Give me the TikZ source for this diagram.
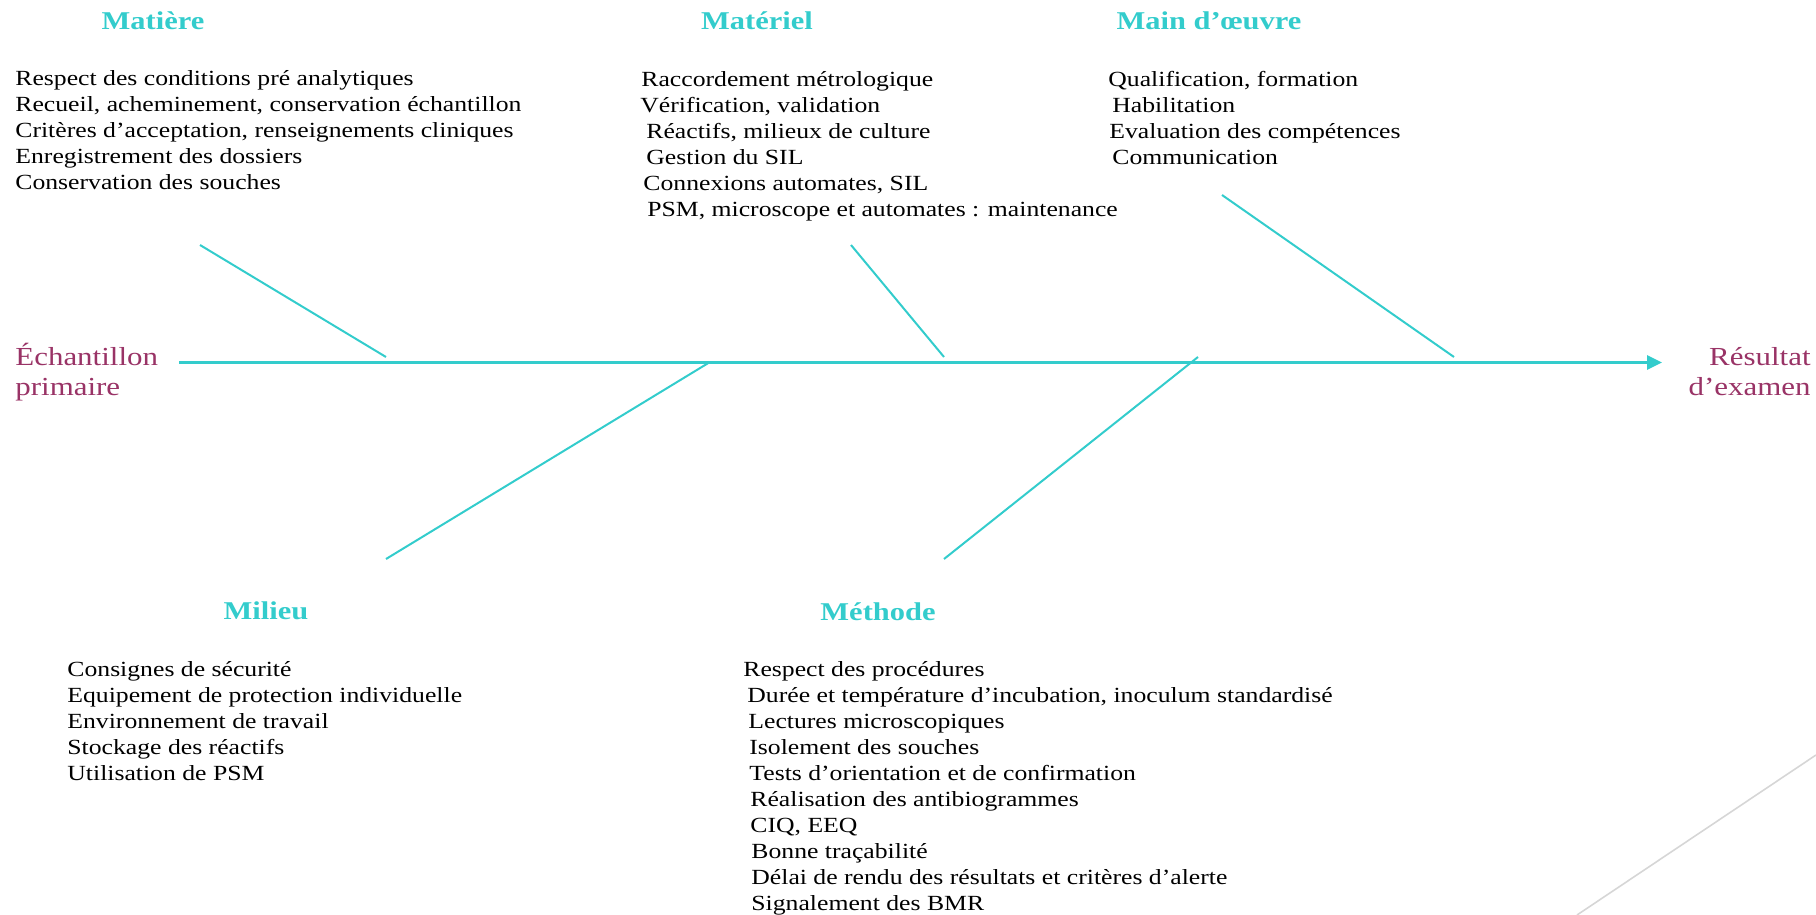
\documentclass[tikz,border=0pt]{standalone}
\usepackage{fontspec}
\setmainfont{Liberation Serif}[FakeStretch=1.19]
\usetikzlibrary{arrows.meta}
\definecolor{fishteal}{HTML}{33CCCC}
\definecolor{fishplum}{HTML}{993366}

\begin{document}
\begin{tikzpicture}[x=0.5pt, y=-0.5pt,
    cause/.style={font=\fontsize{12.8}{15}\selectfont\bfseries, text=fishteal, inner sep=0pt, anchor=base},
    items/.style={font=\fontsize{10.8}{13}\selectfont, align=left, inner sep=0pt, anchor=base west},
    ends/.style={font=\fontsize{13}{15}\selectfont, text=fishplum, inner sep=0pt},
    bone/.style={draw=fishteal, line width=1pt}]
    \useasboundingbox (0,0) rectangle (1816,915);

    % the five causes
    \node[cause] (matiere) at (153, 29.5) {Matière};
    \node[cause] (materiel) at (757, 29.5) {Matériel};
    \node[cause] (maindoeuvre) at (1209, 29.5) {Main d’œuvre};
    \node[cause] (milieu) at (266, 619) {Milieu};
    \node[cause] (methode) at (878, 620) {Méthode};

    % lists, placed by the baseline of their last line
    \node[items] (matiere-list) at (15, 190) {Respect des conditions pré analytiques\\
        Recueil, acheminement, conservation échantillon\\
        Critères d’acceptation, renseignements cliniques\\
        Enregistrement des dossiers\\
        Conservation des souches};
    \node[items] (materiel-list) at (640, 216) {\hspace*{0.5pt}Raccordement métrologique\\
        Vérification, validation\\
        \hspace*{3pt}Réactifs, milieux de culture\\
        \hspace*{3pt}Gestion du SIL\\
        \hspace*{1.5pt}Connexions automates, SIL\\
        \hspace*{3.5pt}PSM, microscope et automates : maintenance};
    \node[items] (maindoeuvre-list) at (1108, 164) {Qualification, formation\\
        \hspace*{2pt}Habilitation\\
        \hspace*{0.5pt}Evaluation des compétences\\
        \hspace*{2pt}Communication};
    \node[items] (milieu-list) at (67, 780) {Consignes de sécurité\\
        Equipement de protection individuelle\\
        Environnement de travail\\
        Stockage des réactifs\\
        Utilisation de PSM};
    \node[items] (methode-list) at (743, 910) {Respect des procédures\\
        \hspace*{2pt}Durée et température d’incubation, inoculum standardisé\\
        \hspace*{2.5pt}Lectures microscopiques\\
        \hspace*{3pt}Isolement des souches\\
        \hspace*{3pt}Tests d’orientation et de confirmation\\
        \hspace*{3.5pt}Réalisation des antibiogrammes\\
        \hspace*{3.5pt}CIQ, EEQ\\
        \hspace*{4pt}Bonne traçabilité\\
        \hspace*{4pt}Délai de rendu des résultats et critères d’alerte\\
        \hspace*{4pt}Signalement des BMR};

    % start and end of the spine
    \node[ends, align=left, anchor=base west] (echantillon) at (15, 395) {Échantillon\\primaire};
    \node[ends, align=right, anchor=base east] (resultat) at (1811, 395) {Résultat\\d’examen};

    \coordinate (spine-start) at (179, 362.5);
    \coordinate (spine-end) at (1662, 362.5);
    \draw[fishteal, line width=1.5pt, -{Triangle[length=7.5pt, width=7pt]}] (spine-start) -- (spine-end);

    % bones
    \coordinate (matiere-top) at (200, 245);
    \coordinate (matiere-foot) at (386, 357);
    \coordinate (materiel-top) at (851, 245);
    \coordinate (materiel-foot) at (944, 357);
    \coordinate (maindoeuvre-top) at (1222, 195);
    \coordinate (maindoeuvre-foot) at (1454, 357);
    \coordinate (milieu-top) at (710, 362);
    \coordinate (milieu-foot) at (386, 559);
    \coordinate (methode-top) at (1198, 357);
    \coordinate (methode-foot) at (944, 559);
    \draw[bone] (matiere-top) -- (matiere-foot);
    \draw[bone] (materiel-top) -- (materiel-foot);
    \draw[bone] (maindoeuvre-top) -- (maindoeuvre-foot);
    \draw[bone] (milieu-top) -- (milieu-foot);
    \draw[bone] (methode-top) -- (methode-foot);

    % slide decoration
    \draw[black!16, line width=0.8pt] (1577, 915) -- (1816, 755);
\end{tikzpicture}
\end{document}
